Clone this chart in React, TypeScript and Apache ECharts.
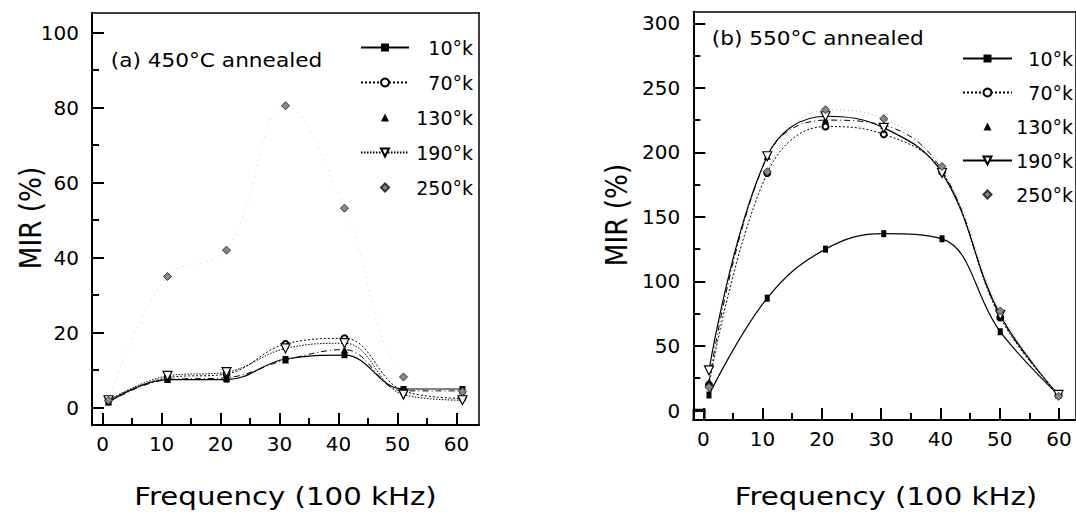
import React, { useEffect, useRef } from "react";
import * as echarts from "echarts";

// ---- data ----
const freq = [1, 11, 21, 31, 41, 51, 61];
const temps = ["10°k", "70°k", "130°k", "190°k", "250°k"];

// (a) 450°C annealed
const a10 = [1.5, 7.5, 7.5, 13, 14, 5, 5];
const a70 = [2, 8, 9, 17, 18.5, 4.5, 2.5];
const a130 = [1.5, 7.5, 8, 12.7, 15.5, 4.5, 4.5];
const a190 = [2, 8.5, 9.5, 15.8, 17.2, 3.5, 2];
const a250 = [2, 35, 42, 80.5, 53.2, 8.2, 4.3];

// (b) 550°C annealed
const b10 = [12, 87, 125, 137, 133, 61, 12];
const b70 = [20, 184, 220, 214, 185, 72, 12];
const b130 = [22, 197, 225, 221, 186, 73, 12];
const b190 = [31, 197, 228, 219, 184, 74, 12];
const b250 = [18, 185, 233, 226, 189, 77, 11];

// tick ranges / steps
const xTickRange = [0, 60];
const xMajorStep = 10;
const xMinorStep = 5;
const aYTickRange = [0, 100];
const aYMajorStep = 20;
const aYMinorStep = 10;
const bYTickRange = [0, 300];
const bYMajorStep = 50;
const bYMinorStep = 25;

const FONT = "DejaVu Sans";

const aStyles = [
  { symbol: "rect", symbolSize: 6, itemStyle: { color: "#000" }, lineStyle: { type: "solid", width: 1.2, color: "#000" } },
  { symbol: "emptyCircle", symbolSize: 6, itemStyle: { color: "#000", borderWidth: 1 }, lineStyle: { type: [2, 2], width: 1, color: "#000" } },
  { symbol: "triangle", symbolSize: 7, itemStyle: { color: "#000" }, lineStyle: { type: [6, 3, 1, 3], width: 1, color: "#000" } },
  { symbol: "triangle", symbolRotate: 180, symbolSize: 9, itemStyle: { color: "#fff", borderColor: "#000", borderWidth: 1.2 }, lineStyle: { type: [1.5, 1.5], width: 1, color: "#000" } },
  { symbol: "diamond", symbolSize: 8, itemStyle: { color: "#888", borderColor: "#333", borderWidth: 1 }, lineStyle: { type: [1, 5], width: 1, color: "#cfcfcf" } },
];
const bStyles = [
  { symbol: "rect", symbolSize: [5, 7], itemStyle: { color: "#000" }, lineStyle: { type: "solid", width: 1.2, color: "#000" } },
  { symbol: "emptyCircle", symbolSize: 6, itemStyle: { color: "#000", borderWidth: 1 }, lineStyle: { type: [2, 2], width: 1, color: "#000" } },
  { symbol: "triangle", symbolSize: 7, itemStyle: { color: "#000" }, lineStyle: { type: [6, 3, 1, 3], width: 1, color: "#000" } },
  { symbol: "triangle", symbolRotate: 180, symbolSize: 9, itemStyle: { color: "#fff", borderColor: "#000", borderWidth: 1.2 }, lineStyle: { type: "solid", width: 1.2, color: "#000" } },
  { symbol: "diamond", symbolSize: 8, itemStyle: { color: "#888", borderColor: "#333", borderWidth: 1 }, lineStyle: { type: [1, 3], width: 1, color: "#aaa" } },
];

const noSplit = { show: true, lineStyle: { opacity: 0 } };

// frame axis of a data grid: only an axis line (box edge)
const frameAxis = (gridIndex: number, min: number, max: number, position: string, width: number) => ({
  type: "value",
  gridIndex,
  min,
  max,
  position,
  splitLine: noSplit,
  axisLine: { show: true, onZero: false, lineStyle: { color: "#000", width } },
  axisTick: { show: false },
  axisLabel: { show: false },
});

// tick axis: lives in its own grid that spans exactly its tick range
const tickAxis = (gridIndex: number, range: number[], step: number, major: boolean, isX: boolean) => ({
  type: "value",
  gridIndex,
  min: range[0],
  max: range[1],
  interval: step,
  z: 10,
  splitLine: noSplit,
  axisLine: { show: false },
  axisTick: { show: true, inside: true, length: major ? 12 : 7, lineStyle: { color: "#000", width: 2 } },
  axisLabel: major
    ? { show: true, color: "#000", fontSize: 20, fontFamily: FONT, margin: isX ? 9 : 13 }
    : { show: false },
});

// companion axis (needed by a grid), fully hidden
const hiddenAxis = (gridIndex: number) => ({
  type: "value",
  gridIndex,
  min: 0,
  max: 1,
  show: false,
  splitLine: noSplit,
});

export default function App() {
  const ref = useRef<HTMLDivElement>(null);
  useEffect(() => {
    if (!ref.current) return;
    const chart = echarts.init(ref.current, null, { renderer: "svg" });
    const aVals = [a10, a70, a130, a190, a250];
    const bVals = [b10, b70, b130, b190, b250];
    const series: any[] = [];
    temps.forEach((t, i) => {
      series.push({
        type: "line",
        name: t,
        xAxisIndex: 0,
        yAxisIndex: 0,
        smooth: 0.4,
        data: freq.map((f, j) => [f, aVals[i][j]]),
        ...aStyles[i],
      });
    });
    temps.forEach((t, i) => {
      series.push({
        type: "line",
        name: "b " + t,
        xAxisIndex: 1,
        yAxisIndex: 1,
        smooth: 0.4,
        data: freq.map((f, j) => [f, bVals[i][j]]),
        ...bStyles[i],
      });
    });
    const mkLegendText = (w: number) => ({
      color: "#000",
      fontSize: 19,
      fontFamily: FONT,
      rich: { t: { width: w, align: "right", fontSize: 19, fontFamily: FONT, color: "#000", lineHeight: 20 } },
    });
    const fmt = (name: string) => "{t|" + name.replace(/^b /, "") + "}";
    const hideLine = (i: number) => (i === 2 || i === 4 ? { lineStyle: { opacity: 0 } } : {});

    // grid layout: 0,1 data boxes; 2..9 tick grids
    const grids = [
      { left: 92, top: 12.7, width: 387, height: 412.3 },
      { left: 693.3, top: 11.7, width: 389.4, height: 408.3 },
      // left panel x ticks (major, minor): bottom at 425, 0..60 from 102.62
      { left: 102.62, top: 300, width: 353.9, height: 125 },
      { left: 102.62, top: 300, width: 353.9, height: 125 },
      // left panel y ticks (major, minor): left at 92, 0..100
      { left: 92, top: 32.58, width: 100, height: 375.16 },
      { left: 92, top: 32.58, width: 100, height: 375.16 },
      // right panel x ticks: bottom at 420
      { left: 703.3, top: 300, width: 355.7, height: 120 },
      { left: 703.3, top: 300, width: 355.7, height: 120 },
      // right panel y ticks: left at 693.3, 0..300
      { left: 693.3, top: 23.3, width: 100, height: 387.2 },
      { left: 693.3, top: 23.3, width: 100, height: 387.2 },
    ];

    const option: any = {
      animation: false,
      backgroundColor: "#fff",
      grid: grids,
      xAxis: [
        frameAxis(0, -1.8, 63.8, "bottom", 2),
        frameAxis(1, -1.69, 64, "bottom", 2),
        tickAxis(2, xTickRange, xMajorStep, true, true),
        tickAxis(3, xTickRange, xMinorStep, false, true),
        hiddenAxis(4),
        hiddenAxis(5),
        tickAxis(6, xTickRange, xMajorStep, true, true),
        tickAxis(7, xTickRange, xMinorStep, false, true),
        hiddenAxis(8),
        hiddenAxis(9),
        frameAxis(0, -1.8, 63.8, "top", 1.5),
        frameAxis(1, -1.69, 64, "top", 1.5),
      ],
      yAxis: [
        frameAxis(0, -4.6, 105.3, "left", 2),
        frameAxis(1, -7.4, 309, "left", 2),
        hiddenAxis(2),
        hiddenAxis(3),
        tickAxis(4, aYTickRange, aYMajorStep, true, false),
        tickAxis(5, aYTickRange, aYMinorStep, false, false),
        hiddenAxis(6),
        hiddenAxis(7),
        tickAxis(8, bYTickRange, bYMajorStep, true, false),
        tickAxis(9, bYTickRange, bYMinorStep, false, false),
        frameAxis(0, -4.6, 105.3, "right", 1.5),
        frameAxis(1, -7.4, 309, "right", 1.5),
      ],
      legend: [
        {
          orient: "vertical",
          left: 355,
          top: 33,
          itemWidth: 48,
          itemHeight: 10,
          itemGap: 16,
          selectedMode: false,
          data: temps.map((t, i) => ({ name: t, ...hideLine(i) })),
          formatter: fmt,
          textStyle: mkLegendText(59),
        },
        {
          orient: "vertical",
          left: 957,
          top: 44,
          itemWidth: 49,
          itemHeight: 10,
          itemGap: 15,
          selectedMode: false,
          data: temps.map((t, i) => ({ name: "b " + t, ...hideLine(i) })),
          formatter: fmt,
          textStyle: mkLegendText(56),
        },
      ],
      graphic: [
        { type: "text", x: 110.7, y: 60, scaleX: 1.14, style: { text: "(a) 450°C annealed", fontSize: 19, fontFamily: FONT, fill: "#000", align: "left", verticalAlign: "middle" } },
        { type: "text", x: 711.7, y: 38, scaleX: 1.14, style: { text: "(b) 550°C annealed", fontSize: 19, fontFamily: FONT, fill: "#000", align: "left", verticalAlign: "middle" } },
        { type: "text", x: 285.5, y: 496, scaleX: 1.17, style: { text: "Frequency (100 kHz)", fontSize: 25, fontFamily: FONT, fill: "#000", align: "center", verticalAlign: "middle" } },
        { type: "text", x: 886, y: 496, scaleX: 1.17, style: { text: "Frequency (100 kHz)", fontSize: 25, fontFamily: FONT, fill: "#000", align: "center", verticalAlign: "middle" } },
        { type: "text", x: 31, y: 218, rotation: Math.PI / 2, scaleX: 1.05, scaleY: 1.17, style: { text: "MIR (%)", fontSize: 25, fontFamily: FONT, fill: "#000", align: "center", verticalAlign: "middle" } },
        { type: "text", x: 617, y: 215, rotation: Math.PI / 2, scaleX: 1.05, scaleY: 1.17, style: { text: "MIR (%)", fontSize: 25, fontFamily: FONT, fill: "#000", align: "center", verticalAlign: "middle" } },
        { type: "rect", shape: { x: 693.3, y: 409.5, width: 11.5, height: 10.5 }, style: { fill: "none", stroke: "#000", lineWidth: 1.5 } },
      ],
      series,
    };
    chart.setOption(option);
    return () => chart.dispose();
  }, []);
  return <div ref={ref} style={{ position: "absolute", left: 0, top: 0, width: 1076, height: 512 }} />;
}
